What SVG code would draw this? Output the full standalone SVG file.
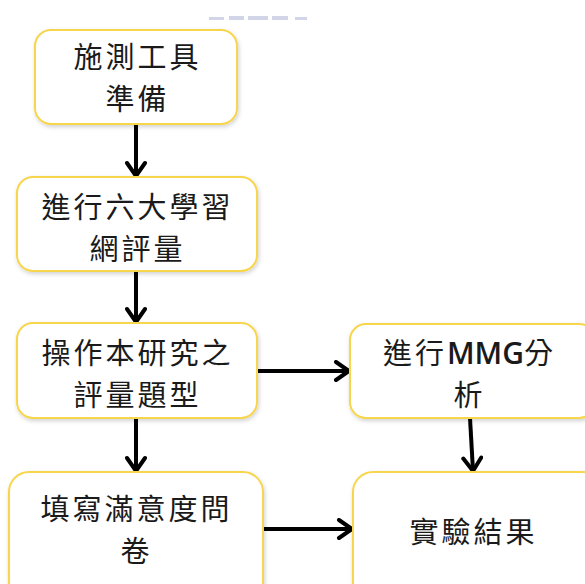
<svg xmlns="http://www.w3.org/2000/svg" width="585" height="584" viewBox="0 0 585 584">
<defs>
<style>
.box{fill:#ffffff;stroke:#f7d54e;stroke-width:2;filter:url(#sh)}
.t{font-family:"Microsoft JhengHei","Noto Sans CJK TC","Noto Sans",sans-serif;font-size:29px;letter-spacing:3px;fill:#1a1a1a;text-anchor:middle}
.lat{font-family:"Open Sans","Noto Sans",sans-serif;font-size:30px;letter-spacing:0px;font-weight:600}
.c{stroke:#000;stroke-width:4;fill:none}
.blur{fill:#b4b8d8;opacity:0.6}
</style>
<filter id="sh" x="-10%" y="-10%" width="120%" height="130%">
<feDropShadow dx="1" dy="2" stdDeviation="2" flood-color="#000" flood-opacity="0.18"/>
</filter>
<marker id="ah" viewBox="0 0 20 22" refX="16" refY="11" markerWidth="20" markerHeight="22" markerUnits="userSpaceOnUse" orient="auto">
<path d="M3,2 L16,11 L3,20" fill="none" stroke="#000" stroke-width="4" stroke-linecap="round" stroke-linejoin="miter"/>
</marker>
</defs>
<rect x="0" y="0" width="585" height="584" fill="#ffffff"/>
<g id="artifact">
<rect class="blur" x="209" y="17" width="15" height="3"/>
<rect class="blur" x="229" y="16" width="15" height="4"/>
<rect class="blur" x="248" y="16" width="20" height="4"/>
<rect class="blur" x="272" y="16" width="16" height="4"/>
<rect class="blur" x="295" y="17" width="12" height="3"/>
</g>
<g id="connectors">
<line class="c" x1="136" y1="124" x2="136" y2="176" marker-end="url(#ah)"/>
<line class="c" x1="136" y1="271" x2="136" y2="322" marker-end="url(#ah)"/>
<line class="c" x1="136" y1="418" x2="136" y2="471" marker-end="url(#ah)"/>
<line class="c" x1="257" y1="371" x2="349" y2="371" marker-end="url(#ah)"/>
<line class="c" x1="470" y1="418" x2="473" y2="471" marker-end="url(#ah)"/>
<line class="c" x1="263" y1="529" x2="352" y2="529" marker-end="url(#ah)"/>
</g>
<g id="n1">
<rect class="box" x="35" y="30" width="202" height="94" rx="16"/>
<text class="t" x="137.5" y="68">施測工具</text>
<text class="t" x="137.5" y="110">準備</text>
</g>
<g id="n2">
<rect class="box" x="17" y="177" width="240" height="94" rx="16"/>
<text class="t" x="137.5" y="218">進行六大學習</text>
<text class="t" x="137.5" y="260">網評量</text>
</g>
<g id="n3">
<rect class="box" x="17" y="323" width="240" height="95" rx="16"/>
<text class="t" x="137.5" y="364">操作本研究之</text>
<text class="t" x="137.5" y="406">評量題型</text>
</g>
<g id="n4">
<rect class="box" x="350" y="324" width="245" height="94" rx="16"/>
<text class="t" x="469.5" y="364">進行<tspan class="lat">MMG</tspan>分</text>
<text class="t" x="469.5" y="406">析</text>
</g>
<g id="n5">
<rect class="box" x="9" y="472" width="254" height="130" rx="20"/>
<text class="t" x="136.5" y="520">填寫滿意度問</text>
<text class="t" x="136.5" y="562">卷</text>
</g>
<g id="n6">
<rect class="box" x="353" y="472" width="250" height="130" rx="20"/>
<text class="t" x="473.5" y="543">實驗結果</text>
</g>
</svg>
